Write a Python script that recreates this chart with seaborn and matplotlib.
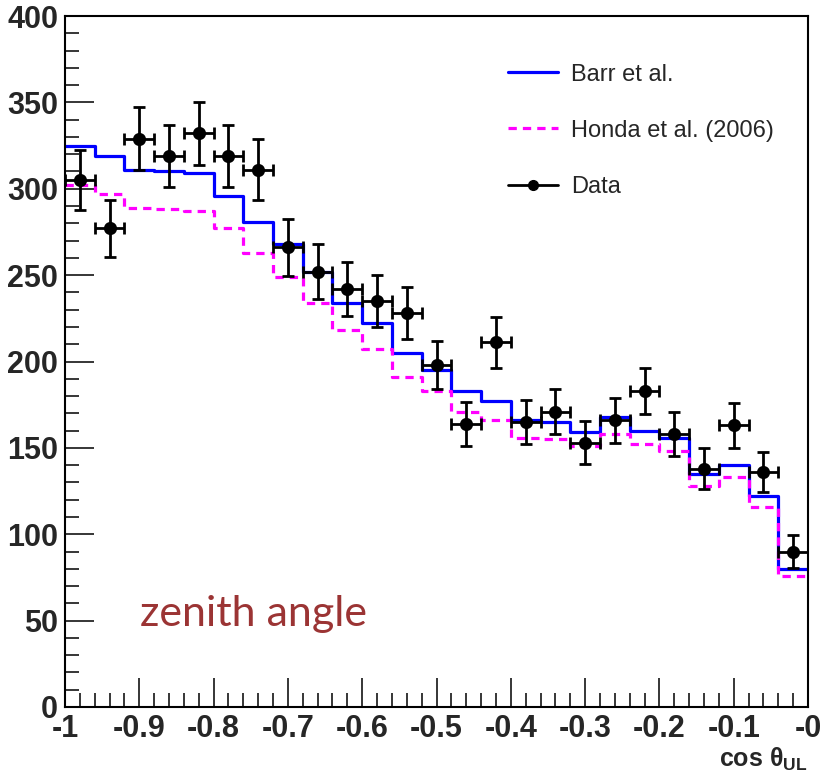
import numpy as np
import pandas as pd
import matplotlib
matplotlib.use("Agg")
import matplotlib.pyplot as plt
from matplotlib.lines import Line2D
from matplotlib.ticker import MultipleLocator
import seaborn as sns

# ---- data ----
bin_edges = [round(-1.0 + 0.04 * i, 2) for i in range(26)]
bin_centers = [round(-0.98 + 0.04 * i, 2) for i in range(25)]

barr = [325, 319, 311, 310, 309, 296, 281, 268, 252, 234, 222, 205, 195,
        183, 177, 166, 165, 159, 168, 160, 156, 135, 140, 122, 80]
honda = [302, 297, 289, 288, 287, 277, 263, 249, 234, 218, 207, 191, 183,
         171, 166, 156, 155, 151, 158, 152, 148, 128, 133, 116, 76]
data = [305, 277, 329, 319, 332, 319, 311, 266, 252, 242, 235, 228, 198,
        164, 211, 165, 171, 153, 166, 183, 158, 138, 163, 136, 90]
data_err = [17.5, 16.6, 18.1, 17.9, 18.2, 17.9, 17.6, 16.3, 15.9, 15.6, 15.3,
            15.1, 14.1, 12.8, 14.5, 12.8, 13.1, 12.4, 12.9, 13.5, 12.6, 11.7,
            12.8, 11.7, 9.5]

x_ticks = [-1.0, -0.9, -0.8, -0.7, -0.6, -0.5, -0.4, -0.3, -0.2, -0.1, 0.0]
x_tick_labels = ["-1", "-0.9", "-0.8", "-0.7", "-0.6", "-0.5", "-0.4",
                 "-0.3", "-0.2", "-0.1", "-0"]
y_ticks = [0, 50, 100, 150, 200, 250, 300, 350, 400]
legend_labels = ["Barr et al.", "Honda et al. (2006)", "Data"]

df = pd.DataFrame({"x": bin_centers, "barr": barr, "honda": honda,
                   "data": data, "err": data_err})

# ---- style ----
sns.set_style("ticks")
plt.rcParams["font.family"] = ["Liberation Sans", "DejaVu Sans"]
plt.rcParams["mathtext.fontset"] = "custom"
plt.rcParams["mathtext.rm"] = "Liberation Sans"
plt.rcParams["mathtext.bf"] = "Liberation Sans:bold"
plt.rcParams["mathtext.it"] = "Liberation Sans:italic"

fig = plt.figure(figsize=(8.23, 7.74), dpi=100)
ax = fig.add_axes([65 / 823, 1 - 707 / 774, 743 / 823, 691 / 774])

sns.histplot(data=df, x="x", weights="barr", bins=bin_edges, element="step",
             fill=False, color="#0000ff", linewidth=2.3, ax=ax)
sns.histplot(data=df, x="x", weights="honda", bins=bin_edges, element="step",
             fill=False, color="#ff00ff", linewidth=2.3,
             linestyle=(0, (2.6, 1.9)), ax=ax)

ax.errorbar(df["x"], df["data"], xerr=0.02, yerr=df["err"], fmt="none",
            ecolor="black", elinewidth=2.0, capsize=4, capthick=2.0, zorder=4)
sns.scatterplot(data=df, x="x", y="data", color="black", s=90,
                edgecolor="black", linewidth=0, zorder=5, ax=ax)

ax.set_xlim(-1.0, 0.0)
ax.set_ylim(0, 400)
ax.set_xlabel("")
ax.set_ylabel("")

ax.set_xticks(x_ticks)
ax.set_xticklabels(x_tick_labels)
ax.set_yticks(y_ticks)
ax.set_yticklabels([str(v) for v in y_ticks])
ax.xaxis.set_minor_locator(MultipleLocator(0.02))
ax.yaxis.set_minor_locator(MultipleLocator(10))
ax.tick_params(axis="both", which="major", direction="in", length=21,
               width=1.3, labelsize=22, top=False, right=False)
ax.tick_params(axis="both", which="minor", direction="in", length=10,
               width=1.3, top=False, right=False)
ax.tick_params(axis="x", which="major", pad=5)
ax.tick_params(axis="y", which="major", pad=5)
for lab in ax.get_xticklabels() + ax.get_yticklabels():
    lab.set_fontweight("bold")
for sp in ax.spines.values():
    sp.set_visible(True)
    sp.set_linewidth(1.5)
    sp.set_color("black")

ax.text(1.0, -0.076, r"cos θ$_{\mathbf{UL}}$", transform=ax.transAxes,
        ha="right", va="center", fontsize=18, fontweight="bold")

ax.text(-0.899, 47, "zenith angle", color="#9b3434", fontsize=31,
        family=["Lato", "DejaVu Sans"], ha="left", va="baseline")

handles = [
    Line2D([], [], color="#0000ff", lw=2.3),
    Line2D([], [], color="#ff00ff", lw=2.3, linestyle=(0, (2.6, 1.9))),
    Line2D([], [], color="black", lw=2.0, marker="o", markersize=7),
]
ax.legend(handles, legend_labels, loc="upper left",
          bbox_to_anchor=(0.568, 0.962), frameon=False, fontsize=17,
          handlelength=2.1, handletextpad=0.55, labelspacing=1.45)

fig.savefig("out.png", dpi=100)
